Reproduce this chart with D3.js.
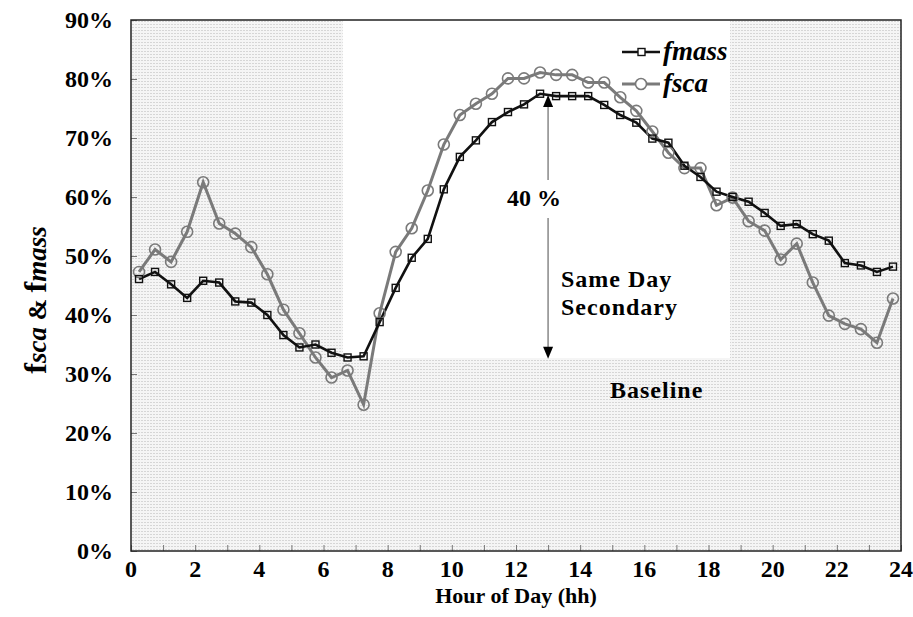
<!DOCTYPE html>
<html><head><meta charset="utf-8">
<script src="https://cdn.jsdelivr.net/npm/d3@7"></script>
<style>body{margin:0;background:#fff}svg{display:block}text{font-family:"Liberation Serif","Times New Roman",serif;font-weight:bold}</style>
</head><body>
<svg id="chart" width="913" height="617"></svg>
<script>
const hours = [0.25,0.75,1.25,1.75,2.25,2.75,3.25,3.75,4.25,4.75,5.25,5.75,6.25,6.75,7.25,7.75,8.25,8.75,9.25,9.75,10.25,10.75,11.25,11.75,12.25,12.75,13.25,13.75,14.25,14.75,15.25,15.75,16.25,16.75,17.25,17.75,18.25,18.75,19.25,19.75,20.25,20.75,21.25,21.75,22.25,22.75,23.25,23.75];
const fmass = [46.1,47.3,45.2,42.9,45.8,45.5,42.3,42.1,40.0,36.6,34.5,35.0,33.6,32.8,33.0,38.8,44.6,49.7,52.9,61.3,66.8,69.6,72.7,74.4,75.7,77.5,77.1,77.1,77.1,75.6,73.9,72.6,69.9,69.2,65.3,63.4,60.9,60.0,59.2,57.3,55.1,55.4,53.7,52.6,48.8,48.4,47.3,48.2];
const fsca = [47.3,51.1,49.0,54.1,62.5,55.5,53.8,51.5,46.9,40.9,36.9,32.8,29.4,30.6,24.8,40.3,50.7,54.7,61.1,68.9,73.9,75.8,77.5,80.1,80.1,81.1,80.7,80.7,79.4,79.4,76.9,74.6,71.1,67.5,64.9,64.9,58.6,59.9,55.9,54.3,49.4,52.1,45.5,39.9,38.5,37.6,35.3,42.8];
const xTickLabels = ["0","2","4","6","8","10","12","14","16","18","20","22","24"];
const yTickLabels = ["0%","10%","20%","30%","40%","50%","60%","70%","80%","90%"];
const secondaryWindow = [6.6, 18.67];   // hours, unshaded "same day secondary" window
const baselineLevel = 32.7;             // %
const arrowHour = 13.0;
const arrowRange = [77.3, 32.6];        // %

const svg = d3.select("#chart");
const L = 131, R = 901, T = 20, B = 551;
const x = d3.scaleLinear().domain([0,24]).range([L,R]);
const y = d3.scaleLinear().domain([0,90]).range([B,T]);

const defs = svg.append("defs");
const pat = defs.append("pattern").attr("id","tex").attr("patternUnits","userSpaceOnUse").attr("width",3).attr("height",3);
pat.append("rect").attr("width",3).attr("height",3).attr("fill","#f5f5f5");
pat.append("rect").attr("width",2).attr("height",1).attr("fill","#d6d6d6");

svg.append("rect").attr("x",L).attr("y",T).attr("width",R-L).attr("height",B-T).attr("fill","url(#tex)");
svg.append("rect").attr("x",x(secondaryWindow[0])).attr("y",T)
  .attr("width",x(secondaryWindow[1])-x(secondaryWindow[0])).attr("height",y(baselineLevel)-T).attr("fill","#fff");

// ticks inside
const yAxis = d3.axisRight(y).tickValues(d3.range(0,91,10)).tickSize(6).tickFormat("");
svg.append("g").attr("transform",`translate(${L},0)`).call(yAxis).call(g=>{g.select(".domain").remove();g.selectAll("line").attr("stroke","#777");});
const xAxis = d3.axisTop(x).tickValues(d3.range(0,25,1)).tickSize(6).tickFormat("");
svg.append("g").attr("transform",`translate(0,${B})`).call(xAxis).call(g=>{g.select(".domain").remove();g.selectAll("line").attr("stroke","#777");});

// frame
svg.append("rect").attr("x",L).attr("y",T).attr("width",R-L).attr("height",B-T).attr("fill","none").attr("stroke","#222").attr("stroke-width",1.5);

// tick labels
svg.append("g").selectAll("text").data(yTickLabels).join("text")
  .attr("x",L-18).attr("y",(d,i)=>y(i*10)+8).attr("text-anchor","end").attr("font-size",24).text(d=>d);
svg.append("g").selectAll("text").data(xTickLabels).join("text")
  .attr("x",(d,i)=>x(i*2)).attr("y",577).attr("text-anchor","middle").attr("font-size",24).text(d=>d);
svg.append("text").attr("x",(L+R)/2).attr("y",603).attr("text-anchor","middle").attr("font-size",22).text("Hour of Day (hh)");

// y title
const yt = svg.append("text").attr("transform","translate(46,300) rotate(-90)").attr("text-anchor","middle").attr("font-size",32);
yt.append("tspan").text("f");
yt.append("tspan").attr("font-style","italic").attr("font-size",27).text("sca");
yt.append("tspan").attr("font-size",26).text(" & ");
yt.append("tspan").text("f");
yt.append("tspan").attr("font-style","italic").attr("font-size",27).text("mass");

// lines
const lineGen = vals => d3.line().x((d,i)=>x(hours[i])).y(d=>y(d))(vals);
svg.append("path").attr("d",lineGen(fsca)).attr("fill","none").attr("stroke","#7a7a7a").attr("stroke-width",3);
svg.append("path").attr("d",lineGen(fmass)).attr("fill","none").attr("stroke","#111").attr("stroke-width",2.6);
svg.append("g").selectAll("circle").data(fsca).join("circle")
  .attr("cx",(d,i)=>x(hours[i])).attr("cy",d=>y(d)).attr("r",5.5).attr("fill","none").attr("stroke","#7a7a7a").attr("stroke-width",1.6);
svg.append("g").selectAll("rect").data(fmass).join("rect")
  .attr("x",(d,i)=>x(hours[i])-3.5).attr("y",d=>y(d)-3.5).attr("width",7).attr("height",7).attr("fill","none").attr("stroke","#111").attr("stroke-width",1.4);

// arrow
const ax = x(arrowHour);
svg.append("line").attr("x1",ax).attr("x2",ax).attr("y1",y(arrowRange[0])+10).attr("y2",180).attr("stroke","#888").attr("stroke-width",1.5);
svg.append("line").attr("x1",ax).attr("x2",ax).attr("y1",218).attr("y2",y(arrowRange[1])-10).attr("stroke","#888").attr("stroke-width",1.5);
const tip1 = y(arrowRange[0]), tip2 = y(arrowRange[1]);
svg.append("path").attr("d",`M${ax},${tip1} L${ax-5},${tip1+12} L${ax+5},${tip1+12} Z`).attr("fill","#000");
svg.append("path").attr("d",`M${ax},${tip2} L${ax-5},${tip2-12} L${ax+5},${tip2-12} Z`).attr("fill","#000");
svg.append("text").attr("x",534).attr("y",206).attr("text-anchor","middle").attr("font-size",24).text("40 %");

svg.append("text").attr("x",561).attr("y",287).attr("font-size",24).attr("letter-spacing",1).text("Same Day");
svg.append("text").attr("x",561).attr("y",315).attr("font-size",24).attr("letter-spacing",1).text("Secondary");
svg.append("text").attr("x",610).attr("y",398).attr("font-size",24).attr("letter-spacing",1).text("Baseline");

// legend
const lg = svg.append("g");
lg.append("line").attr("x1",622).attr("x2",660).attr("y1",52).attr("y2",52).attr("stroke","#111").attr("stroke-width",2.6);
lg.append("rect").attr("x",638).attr("y",48.5).attr("width",7).attr("height",7).attr("fill","#fff").attr("stroke","#111").attr("stroke-width",1.4);
lg.append("text").attr("x",663).attr("y",60).attr("font-size",27).attr("font-style","italic").text("fmass");
lg.append("line").attr("x1",622).attr("x2",660).attr("y1",84).attr("y2",84).attr("stroke","#7a7a7a").attr("stroke-width",3);
lg.append("circle").attr("cx",641).attr("cy",84).attr("r",5.5).attr("fill","#fff").attr("stroke","#7a7a7a").attr("stroke-width",1.6);
lg.append("text").attr("x",663).attr("y",92).attr("font-size",27).attr("font-style","italic").text("fsca");
</script>
</body></html>
